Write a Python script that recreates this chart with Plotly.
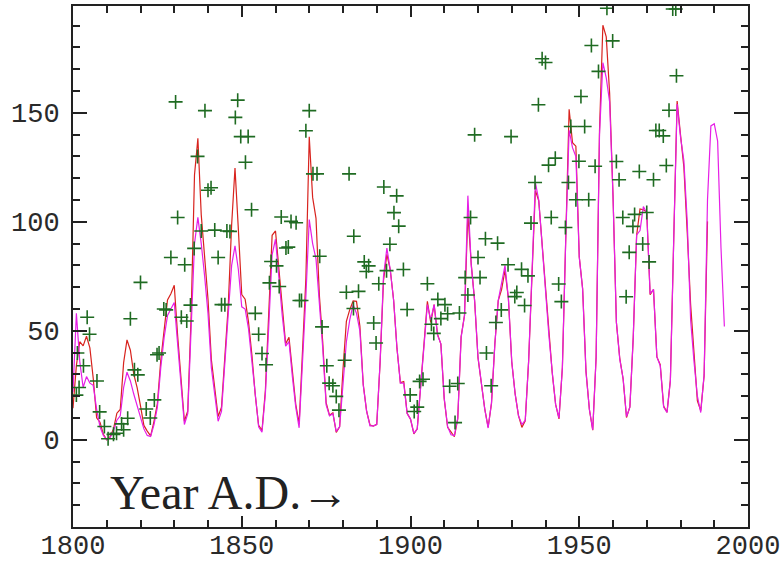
import plotly.graph_objects as go

# Red series: yearly values 1800-1988
red_years = list(range(1800, 1989))
red_vals = [14.5, 34.0, 45.0, 43.1, 47.5, 42.2, 28.1, 10.1, 8.1, 2.5,
            0.0, 1.4, 5.0, 12.2, 13.9, 35.4, 45.8, 41.1, 30.1, 23.9,
            15.6, 6.6, 4.0, 1.8, 8.5, 16.6, 36.3, 49.6, 64.2, 67.0,
            70.9, 47.8, 27.5, 8.5, 13.2, 56.9, 121.5, 138.3, 103.2, 85.7,
            64.6, 36.7, 24.2, 10.7, 15.0, 40.1, 61.5, 98.5, 124.7, 96.3,
            66.6, 64.5, 54.1, 39.0, 20.6, 6.7, 4.3, 22.7, 54.8, 93.8,
            95.8, 77.2, 59.1, 44.0, 47.0, 30.5, 16.3, 7.3, 37.6, 74.0,
            139.0, 111.2, 101.6, 66.2, 44.7, 17.0, 11.3, 12.4, 3.4, 6.0,
            32.3, 54.3, 59.7, 63.7, 63.5, 52.2, 25.4, 13.1, 6.8, 6.3,
            7.1, 35.6, 73.0, 85.1, 78.0, 64.0, 41.8, 26.2, 26.7, 12.1,
            9.5, 2.7, 5.0, 24.4, 42.0, 63.5, 53.8, 62.0, 48.5, 43.9,
            18.6, 5.7, 3.6, 1.4, 9.6, 47.4, 57.1, 103.9, 80.6, 63.6,
            37.6, 26.1, 14.2, 5.8, 16.7, 44.3, 63.9, 69.0, 77.8, 64.9,
            35.7, 21.2, 11.1, 5.7, 8.7, 36.1, 79.7, 114.4, 109.6, 88.8,
            67.8, 47.5, 30.6, 16.3, 9.6, 33.2, 92.6, 151.6, 136.3, 134.7,
            83.9, 69.4, 31.5, 13.9, 4.4, 38.0, 141.7, 190.2, 184.8, 159.0,
            112.3, 53.9, 37.5, 27.9, 10.2, 15.1, 47.0, 93.8, 105.9, 105.5,
            104.5, 66.6, 68.9, 38.0, 34.5, 15.5, 12.6, 27.5, 92.5, 155.4,
            140.0, 125.0, 95.0, 62.0, 40.0, 17.9, 13.4, 29.4, 100.2]

# Magenta series: yearly values 1800-1993
mag_years = list(range(1800, 1994))
mag_vals = [22, 58, 36, 24, 29, 26, 25, 14, 6, 2,
            0, 1, 4, 9, 11, 24, 31, 27, 21, 16,
            10, 5, 2, 1.5, 7, 15, 33, 47, 57, 60,
            63, 44, 26, 7, 12, 50, 90, 102, 90, 75,
            58, 33, 22, 8.5, 13, 36, 55, 80, 89, 78,
            61, 60, 51, 37, 20, 6, 3.5, 21, 52, 85,
            92, 74, 57, 43, 45, 29, 15, 5.5, 33, 66,
            101, 90, 83, 62, 42, 16, 11, 12, 3.8, 6,
            25, 45, 55, 62, 58, 50, 25, 13, 6.4, 6.4,
            7, 36, 75, 88, 78, 64, 42, 26, 26, 12,
            9.5, 3, 5, 24, 42, 62, 55, 62, 48, 44,
            19, 6, 2.3, 2, 10, 47, 57, 112, 80, 64,
            38, 26, 14, 5.4, 17, 44, 64, 72, 80, 65,
            36, 21, 11, 7, 9, 36, 80, 118, 110, 89,
            68, 48, 31, 16, 10, 33, 92, 142, 134, 130,
            84, 69, 31, 14, 4.6, 38, 140, 173, 166, 155,
            112, 54, 37, 28, 10.7, 15, 47, 94, 96, 107,
            104, 67, 69, 38, 34, 15, 12.5, 27, 92, 154,
            139, 128, 100, 55, 36, 20, 12.5, 30, 110, 144,
            145, 137, 88, 52]

# Green crosses
cross_years = [1801.0, 1801.8, 1801.3, 1803.1, 1804.2, 1804.9, 1807.1, 1807.9, 1809.3, 1810.4,
               1812.0, 1812.9, 1814.4, 1815.0, 1816.2, 1817.0, 1818.2, 1819.2, 1820.0, 1821.7,
               1822.9, 1824.1, 1824.9, 1825.5, 1826.9, 1827.6, 1829.0, 1830.4, 1831.0, 1832.1,
               1833.1, 1833.7, 1834.8, 1835.9, 1836.9, 1838.0, 1839.1, 1840.0, 1840.9, 1842.0,
               1843.0, 1844.0, 1845.0, 1845.6, 1846.5, 1848.1, 1848.8, 1849.7, 1851.9, 1851.1,
               1852.9, 1854.0, 1855.0, 1856.0, 1857.2, 1858.2, 1858.7, 1860.3, 1861.1, 1861.7,
               1863.1, 1863.8, 1864.6, 1866.1, 1867.1, 1867.7, 1869.0, 1870.0, 1871.1, 1872.3,
               1873.1, 1873.8, 1875.2, 1875.9, 1877.0, 1878.0, 1878.8, 1880.5, 1881.0, 1881.8,
               1883.1, 1883.2, 1884.6, 1886.3, 1886.9, 1887.6, 1889.1, 1889.8, 1890.6, 1892.1,
               1892.9, 1893.9, 1895.1, 1895.9, 1896.5, 1897.9, 1899.0, 1899.9, 1901.1, 1902.0,
               1902.7, 1903.7, 1905.0, 1906.2, 1906.9, 1908.1, 1909.0, 1910.2, 1911.0, 1911.6,
               1913.2, 1914.0, 1914.5, 1916.2, 1917.0, 1917.8, 1919.0, 1920.0, 1920.6, 1922.2,
               1922.5, 1923.9, 1925.3, 1925.8, 1926.9, 1928.9, 1929.8, 1930.9, 1931.5, 1932.9,
               1933.8, 1934.8, 1935.7, 1936.9, 1937.9, 1939.0, 1940.0, 1940.9, 1941.7, 1942.9,
               1943.9, 1944.7, 1945.9, 1946.8, 1947.5, 1949.0, 1949.9, 1950.5, 1951.6, 1952.8,
               1953.6, 1954.7, 1955.7, 1958.2, 1959.9, 1961.0, 1961.8, 1962.9, 1963.9, 1964.8,
               1965.9, 1966.4, 1967.8, 1968.8, 1970.0, 1970.7, 1972.0, 1972.7, 1973.7, 1974.9,
               1975.8, 1976.6, 1977.7, 1978.6, 1978.8]
cross_vals = [20.5, 24.0, 39.8, 34.0, 56.2, 48.4, 27.0, 12.8, 6.1, 0.5,
              2.5, 3.0, 7.3, 4.6, 9.9, 55.5, 32.1, 29.8, 72.2, 14.1,
              10.0, 18.3, 39.0, 39.8, 60.0, 59.6, 83.6, 155.0, 102.0, 56.2,
              80.3, 54.5, 61.8, 87.8, 130.0, 95.8, 151.0, 114.5, 115.6, 96.2,
              83.6, 62.0, 62.0, 95.8, 95.6, 147.9, 155.8, 139.1, 139.1, 127.3,
              105.5, 58.0, 48.4, 39.6, 34.4, 72.0, 81.8, 79.8, 70.3, 102.2,
              88.0, 88.4, 100.2, 99.6, 63.9, 63.9, 141.8, 151.0, 122.0, 122.0,
              84.2, 51.8, 34.0, 26.0, 24.8, 19.9, 13.6, 36.5, 67.7, 122.0,
              60.2, 93.4, 68.1, 81.6, 77.2, 79.8, 53.6, 44.4, 71.6, 116.0,
              77.6, 89.7, 104.2, 111.9, 98.0, 78.1, 59.8, 20.6, 13.0, 15.0,
              26.8, 27.8, 71.6, 53.0, 48.8, 64.4, 55.6, 62.0, 57.8, 24.6,
              7.9, 25.8, 58.2, 74.4, 66.4, 102.0, 139.9, 83.6, 74.4, 92.2,
              39.8, 24.8, 53.8, 90.2, 59.6, 80.3, 139.1, 65.7, 67.6, 78.2,
              61.6, 75.2, 99.4, 118.0, 153.7, 174.8, 173.1, 126.0, 102.0, 129.2,
              71.5, 63.4, 97.4, 118.0, 143.7, 110.1, 127.8, 157.5, 143.7, 110.1,
              180.9, 125.5, 169.0, 198.0, 183.0, 127.7, 119.3, 102.0, 65.6, 86.0,
              97.9, 103.4, 123.1, 89.8, 104.3, 81.6, 119.3, 141.9, 141.9, 139.4,
              125.8, 151.2, 197.6, 197.6, 167.0]

x_tickvals = [1800, 1850, 1900, 1950, 2000]
x_ticklabels = ["1800", "1850", "1900", "1950", "2000"]
y_tickvals = [0, 50, 100, 150]
y_ticklabels = ["0", "50", "100", "150"]

fig = go.Figure()
fig.add_trace(go.Scatter(x=red_years, y=red_vals, mode="lines",
                         line=dict(color="#d8231e", width=1.2), hoverinfo="skip"))
fig.add_trace(go.Scatter(x=mag_years, y=mag_vals, mode="lines",
                         line=dict(color="#e61ee6", width=1.2), hoverinfo="skip"))
fig.add_trace(go.Scatter(x=cross_years, y=cross_vals, mode="markers",
                         marker=dict(symbol="cross-thin", size=10,
                                     line=dict(color="#1f6b22", width=1.6)),
                         hoverinfo="skip"))

tickfont = dict(family="Liberation Mono", size=27, color="#2a2a2a")
fig.update_layout(
    width=784, height=561,
    margin=dict(l=73, r=36, t=6, b=34, autoexpand=False),
    paper_bgcolor="white", plot_bgcolor="white",
    showlegend=False,
    xaxis=dict(range=[1800, 2000], showgrid=False, zeroline=False, automargin=False,
               showline=True, linecolor="#222222", linewidth=2, mirror="ticks",
               ticks="inside", ticklen=11, tickwidth=1.5, tickcolor="#222222",
               tickvals=x_tickvals, ticktext=x_ticklabels, tickfont=tickfont,
               ticklabelstandoff=-7,
               minor=dict(dtick=10, tick0=1800, ticks="inside", ticklen=7,
                          tickwidth=1.5, tickcolor="#222222", showgrid=False)),
    yaxis=dict(range=[-40, 199], showgrid=False, zeroline=False, automargin=False,
               showline=True, linecolor="#222222", linewidth=2, mirror="ticks",
               ticks="inside", ticklen=14, tickwidth=1.5, tickcolor="#222222",
               tickvals=y_tickvals, ticktext=y_ticklabels, tickfont=tickfont,
               ticklabelstandoff=6,
               minor=dict(dtick=10, tick0=0, ticks="inside", ticklen=7,
                          tickwidth=1.5, tickcolor="#222222", showgrid=False)),
    annotations=[dict(x=1810.4, y=-24, xref="x", yref="y", xanchor="left",
                      yanchor="middle", showarrow=False, text="Year A.D.\u2192",
                      font=dict(family="Liberation Serif", size=48, color="#222222"))],
)

fig.write_html("out.html")
